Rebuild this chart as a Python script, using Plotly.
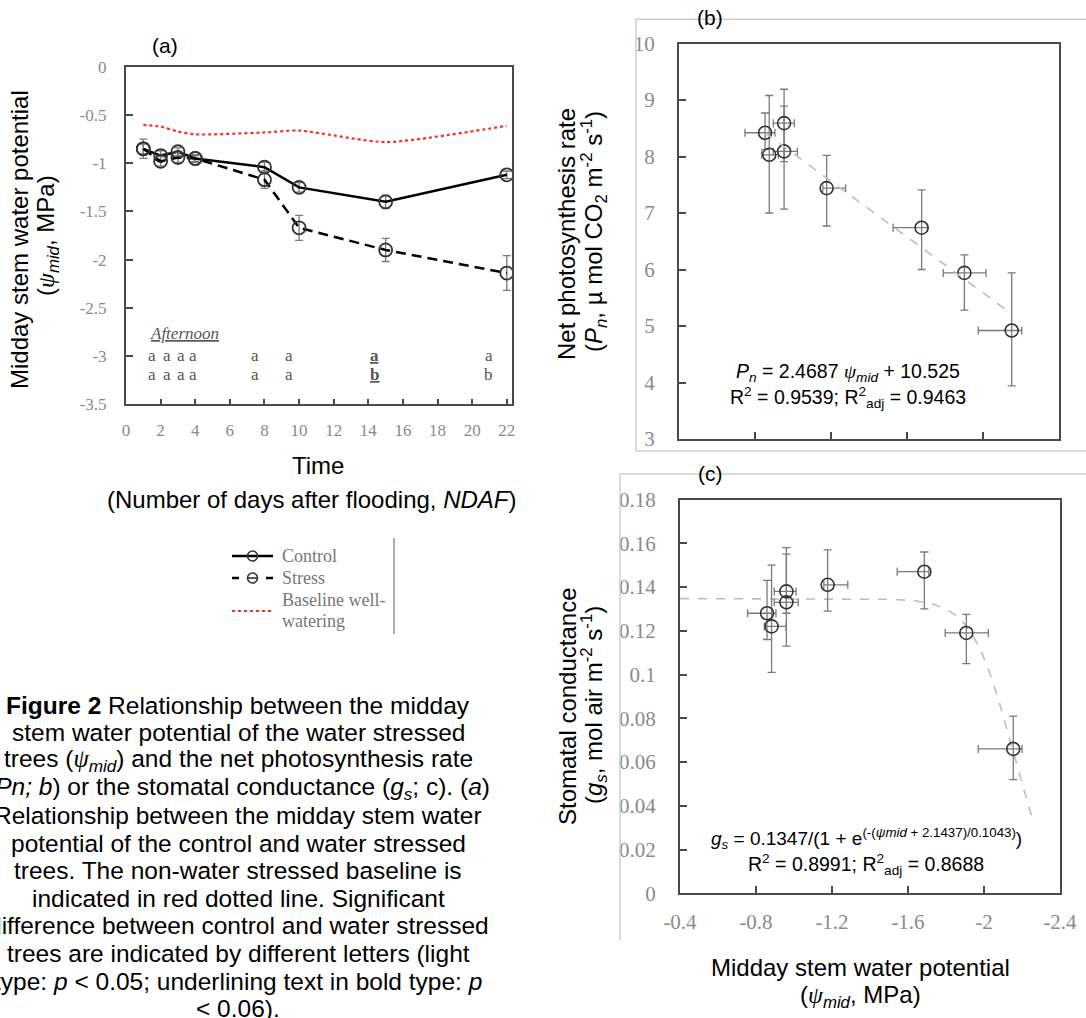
import plotly.graph_objects as go
import numpy as np

W, H = 1086, 1018

# ---------------- Panel (a) data ----------------
days = [1, 2, 3, 4, 8, 10, 15, 22]
control = [-0.85, -0.92, -0.88, -0.95, -1.04, -1.25, -1.40, -1.12]
control_err = [0.10, 0.05, 0.04, 0.03, 0.05, 0.05, 0.07, 0.04]
stress = [-0.85, -0.98, -0.94, -0.95, -1.17, -1.67, -1.90, -2.14]
stress_err = [0.05, 0.05, 0.05, 0.04, 0.09, 0.13, 0.12, 0.18]
baseline = [-0.60, -0.62, -0.67, -0.70, -0.68, -0.66, -0.78, -0.61]
a_xticks = list(range(0, 23, 2))
a_yticks = [0, -0.5, -1, -1.5, -2, -2.5, -3, -3.5]
a_ytick_text = ["0", "-0.5", "-1", "-1.5", "-2", "-2.5", "-3", "-3.5"]
letters_x = [1.5, 2.35, 3.15, 3.85, 7.45, 9.4, 14.35, 20.95]
letters_row1 = ["a", "a", "a", "a", "a", "a", "<b><u>a</u></b>", "a"]
letters_row2 = ["a", "a", "a", "a", "a", "a", "<b><u>b</u></b>", "b"]
legend_names = ["Control", "Stress", "Baseline well-", "watering"]

# ---------------- Panel (b) data ----------------
b_psi = [-0.853, -0.875, -0.953, -0.953, -1.177, -1.677, -1.902, -2.151]
b_psi_plus = [0.106, 0.040, 0.057, 0.057, 0.020, 0.150, 0.111, 0.176]
b_psi_minus = [0.052, 0.048, 0.054, 0.070, 0.100, 0.030, 0.114, 0.053]
b_pn = [8.42, 8.03, 8.59, 8.09, 7.44, 6.74, 5.94, 4.92]
b_pn_up = [0.35, 1.05, 0.60, 0.80, 0.58, 0.67, 0.32, 1.02]
b_pn_down = [0.30, 1.03, 0.68, 1.02, 0.67, 0.74, 0.66, 0.98]
b_slope, b_intercept = 2.4687, 10.525
b_yticks = [3, 4, 5, 6, 7, 8, 9, 10]

# ---------------- Panel (c) data ----------------
c_psi = [-0.858, -0.882, -0.960, -0.960, -1.177, -1.686, -1.907, -2.154]
c_psi_plus = [0.102, 0.038, 0.064, 0.064, 0.020, 0.143, 0.111, 0.184]
c_psi_minus = [0.047, 0.076, 0.051, 0.062, 0.106, 0.024, 0.116, 0.046]
c_gs = [0.128, 0.122, 0.138, 0.133, 0.141, 0.147, 0.119, 0.066]
c_gs_up = [0.015, 0.028, 0.020, 0.022, 0.016, 0.009, 0.0085, 0.015]
c_gs_down = [0.012, 0.021, 0.010, 0.020, 0.012, 0.017, 0.014, 0.014]
c_a, c_x0, c_b = 0.1347, 2.1437, 0.1043
c_xticks = [-0.4, -0.8, -1.2, -1.6, -2, -2.4]
c_xtick_text = ["-0.4", "-0.8", "-1.2", "-1.6", "-2", "-2.4"]
c_yticks = [0, 0.02, 0.04, 0.06, 0.08, 0.1, 0.12, 0.14, 0.16, 0.18]
c_ytick_text = ["0", "0.02", "0.04", "0.06", "0.08", "0.1", "0.12", "0.14", "0.16", "0.18"]

SERIF = "Liberation Serif"
SANS = "Liberation Sans"
TICKGRAY = "#8a8a8a"
AXCOL = "#4a4a4a"
MARK = "#333333"
ERRC = "#7a7a7a"
RED = "#ff2a2a"

def px_x(p):
    return p / W

def px_y(p):
    return 1 - p / H

fig = go.Figure()

# ---- (a) traces ----
fig.add_trace(go.Scatter(
    x=days, y=control, mode="lines+markers", name="Control",
    line=dict(color="black", width=2.5),
    marker=dict(symbol="circle-open", size=13, color=MARK, line=dict(width=1.8)),
    error_y=dict(type="data", array=control_err, color=ERRC, thickness=1.3, width=4),
    xaxis="x", yaxis="y"))
fig.add_trace(go.Scatter(
    x=days, y=stress, mode="lines+markers", name="Stress",
    line=dict(color="black", width=2.5, dash="10px,6px"),
    marker=dict(symbol="circle-open", size=13, color=MARK, line=dict(width=1.8)),
    error_y=dict(type="data", array=stress_err, color=ERRC, thickness=1.3, width=4),
    xaxis="x", yaxis="y"))
fig.add_trace(go.Scatter(
    x=days, y=baseline, mode="lines", name="Baseline well-watering",
    line=dict(color=RED, width=2.2, dash="dot", shape="spline", smoothing=0.6),
    xaxis="x", yaxis="y"))

# ---- (b) traces ----
fig.add_trace(go.Scatter(
    x=b_psi, y=b_pn, mode="markers",
    marker=dict(symbol="circle-open", size=13, color=MARK, line=dict(width=1.6)),
    error_x=dict(type="data", array=b_psi_plus, arrayminus=b_psi_minus, symmetric=False,
                 color=ERRC, thickness=1.3, width=4),
    error_y=dict(type="data", array=b_pn_up, arrayminus=b_pn_down, symmetric=False,
                 color=ERRC, thickness=1.3, width=4),
    xaxis="x2", yaxis="y2"))
b_fit_x = np.array([max(b_psi), min(b_psi)])
fig.add_trace(go.Scatter(
    x=b_fit_x, y=b_slope * b_fit_x + b_intercept, mode="lines",
    line=dict(color="#bdbdbd", width=1.6, dash="dash"),
    xaxis="x2", yaxis="y2"))

# ---- (c) traces ----
c_fit_x = np.linspace(-0.4, -2.25, 200)
fig.add_trace(go.Scatter(
    x=c_fit_x, y=c_a / (1 + np.exp(-(c_fit_x + c_x0) / c_b)), mode="lines",
    line=dict(color="#bdbdbd", width=1.6, dash="dash"),
    xaxis="x3", yaxis="y3"))
fig.add_trace(go.Scatter(
    x=c_psi, y=c_gs, mode="markers",
    marker=dict(symbol="circle-open", size=13, color=MARK, line=dict(width=1.6)),
    error_x=dict(type="data", array=c_psi_plus, arrayminus=c_psi_minus, symmetric=False,
                 color=ERRC, thickness=1.3, width=4),
    error_y=dict(type="data", array=c_gs_up, arrayminus=c_gs_down, symmetric=False,
                 color=ERRC, thickness=1.3, width=4),
    xaxis="x3", yaxis="y3"))

tickfont_a = dict(family=SERIF, size=17, color=TICKGRAY)
tickfont_bc = dict(family=SERIF, size=21, color=TICKGRAY)

common = dict(showgrid=False, zeroline=False, showline=True, linecolor=AXCOL,
              linewidth=2, mirror=True, ticks="inside", tickcolor=AXCOL, tickwidth=1.5,
              automargin=False)

fig.update_layout(
    width=W, height=H, margin=dict(l=0, r=0, t=0, b=0, pad=0, autoexpand=False),
    paper_bgcolor="white", plot_bgcolor="white", showlegend=False,
    xaxis=dict(domain=[px_x(126), px_x(512)], range=[0, 22.3], tickvals=a_xticks,
               tickfont=tickfont_a, ticklen=5, anchor="y", ticklabelstandoff=10, **common),
    yaxis=dict(domain=[px_y(404), px_y(67)], range=[-3.5, 0], tickvals=a_yticks,
               ticktext=a_ytick_text, tickfont=tickfont_a, ticklen=7, anchor="x",
               ticklabelstandoff=14, **common),
    xaxis2=dict(domain=[px_x(679), px_x(1059)], range=[-0.4, -2.4], tickvals=c_xticks,
                showticklabels=False, ticklen=7, anchor="y2", **common),
    yaxis2=dict(domain=[px_y(439), px_y(43.5)], range=[3, 10], tickvals=b_yticks,
                tickfont=tickfont_bc, ticklen=7, anchor="x2", ticklabelstandoff=18, **common),
    xaxis3=dict(domain=[px_x(680), px_x(1060)], range=[-0.4, -2.4], tickvals=c_xticks,
                ticktext=c_xtick_text, tickfont=tickfont_bc, ticklen=7, anchor="y3",
                ticklabelstandoff=8, **common),
    yaxis3=dict(domain=[px_y(893.3), px_y(499.5)], range=[0, 0.18], tickvals=c_yticks,
                ticktext=c_ytick_text, tickfont=tickfont_bc, ticklen=7, anchor="x3",
                ticklabelstandoff=18, **common),
)

shapes = []

def L(x0, y0, x1, y1, color, width, dash="solid"):
    shapes.append(dict(type="line", xref="paper", yref="paper", x0=px_x(x0), x1=px_x(x1),
                       y0=px_y(y0), y1=px_y(y1), line=dict(color=color, width=width, dash=dash)))

def C(cx, cy, r, color, width):
    shapes.append(dict(type="circle", xref="paper", yref="paper", x0=px_x(cx - r), x1=px_x(cx + r),
                       y0=px_y(cy + r), y1=px_y(cy - r), line=dict(color=color, width=width)))

# manual legend (a)
L(232, 556, 273, 556, "black", 2.5)
C(252.5, 556, 5, MARK, 1.6)
L(232, 578, 239, 578, "black", 2.5)
L(266, 578, 273, 578, "black", 2.5)
L(248, 578, 257, 578, MARK, 1.6)
C(252.5, 578, 5, MARK, 1.6)
L(232, 611, 273, 611, RED, 1.8, "dot")
L(394, 538, 394, 634, "#777777", 1.2)

# frame (b)
shapes.append(dict(type="rect", xref="paper", yref="paper", x0=px_x(636), x1=1.01,
                   y0=px_y(451), y1=px_y(19.3), line=dict(color="#cfcfcf", width=1.5)))
# frame (c)
L(620, 474, 1100, 474, "#cfcfcf", 1.5)
L(620, 940, 620, 474, "#cfcfcf", 1.5)
fig.update_layout(shapes=shapes)

ann = []

def A(text, x, y, size, family=SANS, color="black", angle=0, xanchor="center", yanchor="middle"):
    ann.append(dict(text=text, x=px_x(x), y=px_y(y), xref="paper", yref="paper",
                    showarrow=False, font=dict(family=family, size=size, color=color),
                    textangle=angle, xanchor=xanchor, yanchor=yanchor))

PSI = '<span style="font-family:Liberation Serif"><i>ψ</i></span>'
TS = 24  # axis-title size

# panel labels
A("(a)", 165, 45, 21)
A("(b)", 710, 17, 21)
A("(c)", 710, 473, 21)

# (a) axis titles
A("Midday stem water potential", 19, 240, TS, angle=-90)
A("(" + PSI + "<i><sub>mid</sub></i>, MPa)", 47, 236, TS, angle=-90)
A("Time", 318, 466, TS)
A("(Number of days after flooding, <i>NDAF</i>)", 312, 499, TS)

# legend texts
for t, yv in zip(legend_names, [556, 578, 600, 621]):
    A(t, 280, yv, 18, family=SERIF, color="#777777", xanchor="left")

# (a) letters
ann.append(dict(text="<i><u>Afternoon</u></i>", x=1.25, y=-2.77, xref="x", yref="y",
                xanchor="left", showarrow=False,
                font=dict(family=SERIF, size=17, color="#555555")))
for xv, t1, t2 in zip(letters_x, letters_row1, letters_row2):
    ann.append(dict(text=t1, x=xv, y=-3.0, xref="x", yref="y", showarrow=False,
                    font=dict(family=SERIF, size=17, color="#555555")))
    ann.append(dict(text=t2, x=xv, y=-3.19, xref="x", yref="y", showarrow=False,
                    font=dict(family=SERIF, size=17, color="#555555")))

# (b) titles and equation
A("Net photosynthesis rate", 567, 234, TS, angle=-90)
A("(<i>P<sub>n</sub></i>, µ mol CO<sub>2</sub> m<sup>-2</sup> s<sup>-1</sup>)", 594, 232, TS, angle=-90)
A("<i>P<sub>n</sub></i> = 2.4687 " + PSI + "<i><sub>mid</sub></i> + 10.525", 848, 372, 19.5)
A("R<sup>2</sup> = 0.9539; R<sup>2</sup><sub>adj</sub> = 0.9463", 848, 397, 19.5)

# (c) titles and equation
A("Stomatal conductance", 567, 707, TS, angle=-90)
A("(<i>g<sub>s</sub></i>, mol air m<sup>-2</sup> s<sup>-1</sup>)", 594, 705, TS, angle=-90)
A("<i>g<sub>s</sub></i> = 0.1347/(1 + e<sup>(-(<i>ψmid</i> + 2.1437)/0.1043)</sup>)", 866, 838, 19)
A("R<sup>2</sup> = 0.8991; R<sup>2</sup><sub>adj</sub> = 0.8688", 866, 864, 19.5)
A("Midday stem water potential", 860, 967, TS)
A("(" + PSI + "<i><sub>mid</sub></i>, MPa)", 860, 996, TS)

# caption
caption = [
    "<b>Figure 2</b> Relationship between the midday",
    "stem water potential of the water stressed",
    "trees (" + PSI + "<i><sub>mid</sub></i>) and the net photosynthesis rate",
    "(<i>Pn; b</i>) or the stomatal conductance (<i>g<sub>s</sub></i>; c). (<i>a</i>)",
    "Relationship between the midday stem water",
    "potential of the control and water stressed",
    "trees. The non-water stressed baseline is",
    "indicated in red dotted line. Significant",
    "difference between control and water stressed",
    "trees are indicated by different letters (light",
    "type: <i>p</i> &lt; 0.05; underlining text in bold type: <i>p</i>",
    "&lt; 0.06).",
]
cap_y = [705, 732, 760, 788, 815, 843, 870, 898, 925, 953, 981, 1008]
for t, yv in zip(caption, cap_y):
    A(t, 238, yv, 24.5)

fig.update_layout(annotations=ann)
fig.write_html("out.html")
